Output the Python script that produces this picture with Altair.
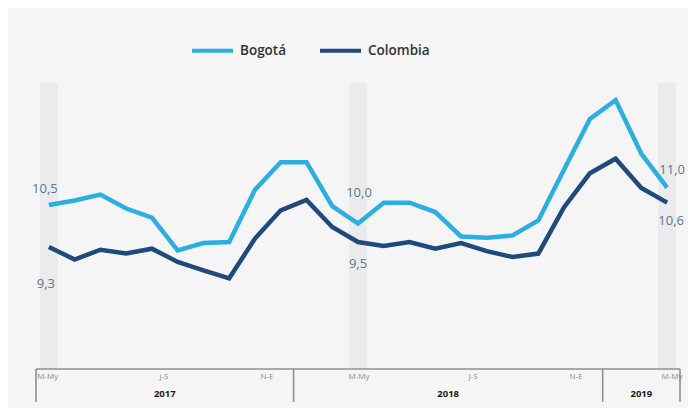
import altair as alt
import pandas as pd

# ---- data ----
periods = ["M-My", "A-Jn", "My-Jl", "Jn-Ag", "J-S", "A-O", "S-N", "O-D", "N-E", "D-F", "E-M", "F-A",
           "M-My", "A-Jn", "My-Jl", "Jn-Ag", "J-S", "A-O", "S-N", "O-D", "N-E", "D-F", "E-M", "F-A",
           "M-My"]
bogota = [10.5, 10.63, 10.8, 10.4, 10.14, 9.2, 9.41, 9.44, 10.94, 11.73, 11.73, 10.47,
          9.97, 10.57, 10.57, 10.3, 9.6, 9.56, 9.63, 10.06, 11.52, 12.97, 13.51, 11.97,
          11.0]
colombia = [9.3, 8.94, 9.22, 9.11, 9.25, 8.87, 8.63, 8.4, 9.54, 10.35, 10.65, 9.87,
            9.44, 9.33, 9.44, 9.25, 9.41, 9.18, 9.01, 9.11, 10.44, 11.41, 11.83, 10.99,
            10.57]
series_names = ["Bogotá", "Colombia"]
series_colors = ["#2AAFE3", "#1F4A7E"]

tick_idx = [0, 4, 8, 12, 16, 20, 24]
years = ["2017", "2018", "2019"]
year_bounds = [-0.5, 9.5, 21.5, 24.5]
band_idx = [0, 12, 24]

label_idx = [0, 0, 12, 12, 24, 24]
label_serie = ["Bogotá", "Colombia", "Bogotá", "Colombia", "Bogotá", "Colombia"]
label_text = ["10,5", "9,3", "10,0", "9,5", "11,0", "10,6"]

# ---- tables ----
rows = []
for i, p in enumerate(periods):
    rows.append({"idx": i, "periodo": p, "serie": "Bogotá", "valor": bogota[i]})
    rows.append({"idx": i, "periodo": p, "serie": "Colombia", "valor": colombia[i]})
df = pd.DataFrame(rows)

W, H = 644, 286
xscale = alt.Scale(domain=[-0.5, 24.5], nice=False, zero=False)
yscale = alt.Scale(domain=[5.8, 14.0], nice=False, zero=False)
FONT = "Open Sans"

bands = alt.Chart(pd.DataFrame({"idx": band_idx})).transform_calculate(
    a="datum.idx - 0.35", b="datum.idx + 0.35"
).mark_rect(color="#EBEBEB").encode(
    x=alt.X("a:Q", scale=xscale, axis=None),
    x2="b:Q",
    y=alt.value(0),
    y2=alt.value(H),
)

lines = alt.Chart(df).mark_line(strokeWidth=4.5).encode(
    x=alt.X("idx:Q", scale=xscale, axis=None),
    y=alt.Y("valor:Q", scale=yscale, axis=None),
    color=alt.Color(
        "serie:N",
        scale=alt.Scale(domain=series_names, range=series_colors),
        legend=alt.Legend(
            title=None, orient="none", direction="horizontal",
            legendX=154, legendY=-55, padding=0,
            symbolType="stroke", symbolSize=1681, symbolStrokeWidth=4,
            labelFont=FONT, labelFontSize=13.5, labelFontWeight=600, labelColor="#333333",
            labelOffset=5, columnPadding=25,
        ),
    ),
)

# value labels
label_offsets = [(-4, -16), (-3, 37), (1, -31), (0, 22), (5, -18), (4, 18)]
label_layers = []
for k in range(len(label_text)):
    i = label_idx[k]
    v = bogota[i] if label_serie[k] == "Bogotá" else colombia[i]
    d = pd.DataFrame({"idx": [i], "valor": [v], "t": [label_text[k]]})
    dx, dy = label_offsets[k]
    label_layers.append(
        alt.Chart(d).mark_text(font=FONT, fontSize=13, color="#5B758F", dx=dx, dy=dy,
                               baseline="middle", align="center").encode(
            x=alt.X("idx:Q", scale=xscale, axis=None),
            y=alt.Y("valor:Q", scale=yscale, axis=None),
            text="t:N",
        )
    )

# axis line
axis_line = alt.Chart(pd.DataFrame({"a": [year_bounds[0]], "b": [year_bounds[-1]]})).mark_rule(
    color="#8F8F8F", strokeWidth=1.6
).encode(
    x=alt.X("a:Q", scale=xscale, axis=None), x2="b:Q", y=alt.value(H)
)

# year separators
seps = alt.Chart(pd.DataFrame({"a": year_bounds})).mark_rule(
    color="#8F8F8F", strokeWidth=1.6
).encode(
    x=alt.X("a:Q", scale=xscale, axis=None), y=alt.value(H), y2=alt.value(H + 33)
)

# tick labels
tick_styles = [("left", -0.45, 0), ("center", None, 12), ("center", None, 12), ("center", None, 1),
               ("center", None, 12), ("center", None, 12), ("right", 24.6, 0)]
tick_layers = []
for k, i in enumerate(tick_idx):
    align, pos, dx = tick_styles[k]
    d = pd.DataFrame({"idx": [i if pos is None else pos], "t": [periods[i]]})
    tick_layers.append(
        alt.Chart(d).mark_text(font=FONT, fontSize=8, color="#8A8A8A", align=align,
                               baseline="middle", dx=dx).encode(
            x=alt.X("idx:Q", scale=xscale, axis=None),
            y=alt.value(H + 8),
            text="t:N",
        )
    )

# year labels
yd = pd.DataFrame({
    "year": years,
    "c": [(year_bounds[j] + year_bounds[j + 1]) / 2 for j in range(len(years))],
})
year_text = alt.Chart(yd).mark_text(font=FONT, fontSize=9.5, fontWeight="bold", color="#1A1A1A",
                                    baseline="middle", align="center").encode(
    x=alt.X("c:Q", scale=xscale, axis=None),
    y=alt.value(H + 25),
    text="year:N",
)

chart = alt.layer(
    bands, axis_line, seps, *tick_layers, year_text, lines, *label_layers
).properties(
    width=W, height=H,
    autosize=alt.AutoSizeParams(type="none"),
    padding={"left": 28, "top": 75, "right": 8, "bottom": 39},
    background="#F5F5F5",
).configure_view(stroke=None)

chart.save("out.html", embed_options={"renderer": "svg", "actions": False})
